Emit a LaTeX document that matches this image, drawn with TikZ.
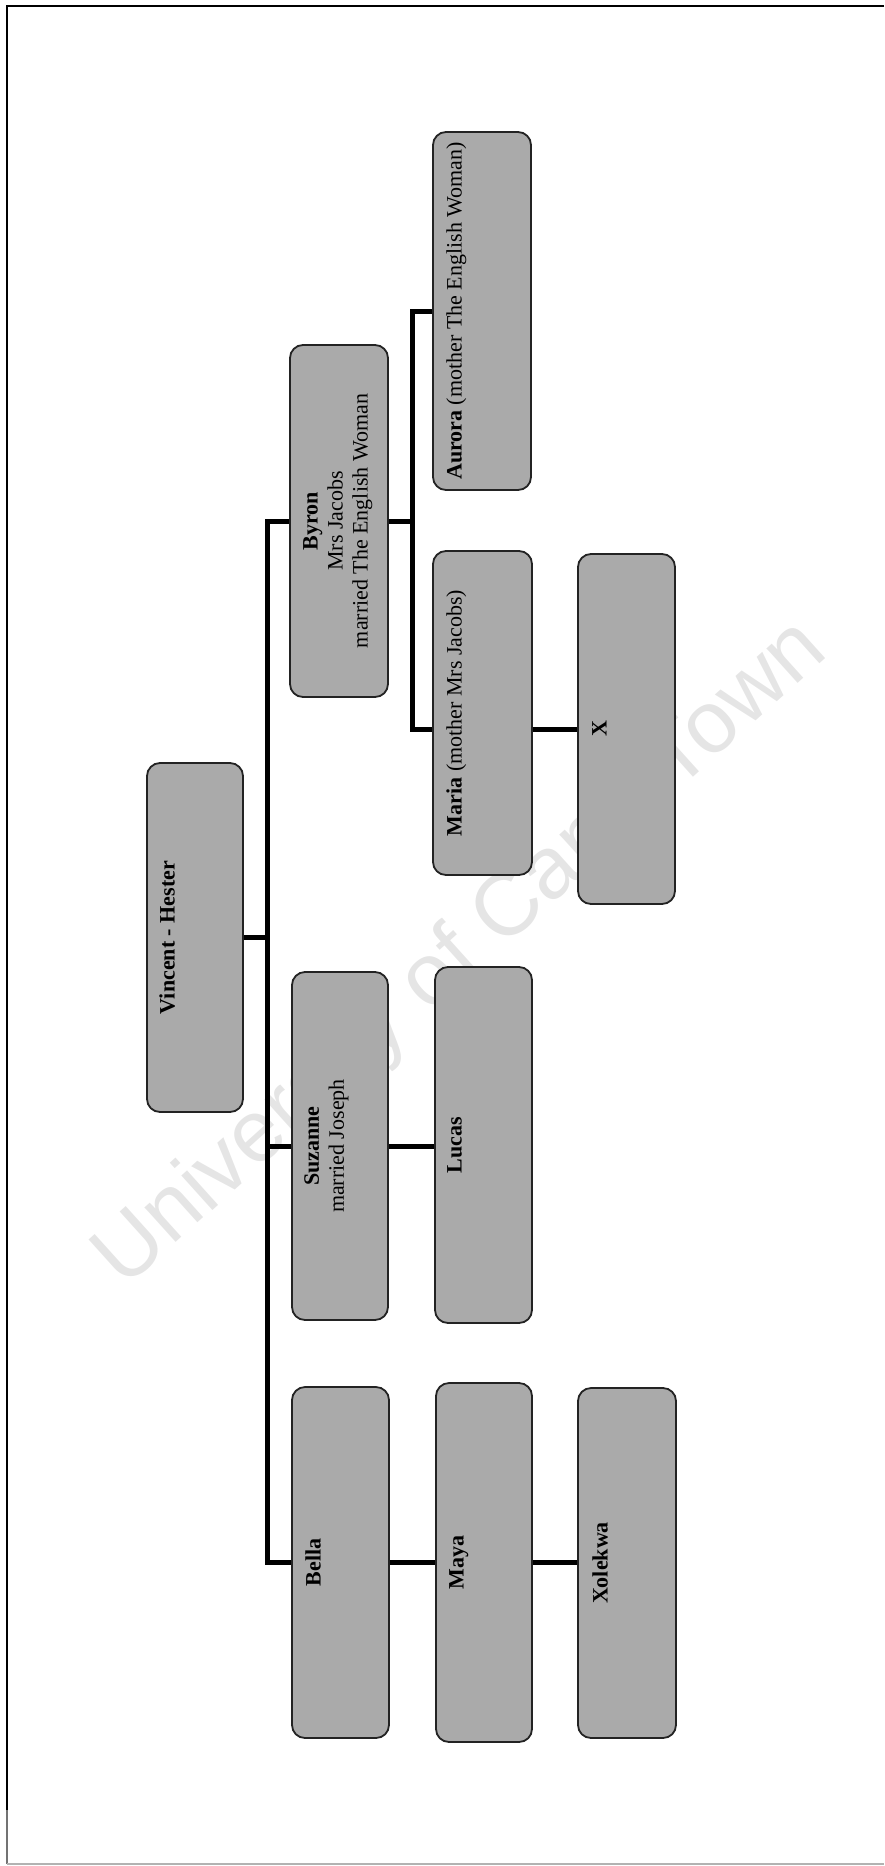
\documentclass[tikz,border=0pt]{standalone}
\usepackage{fontspec}
\setmainfont{Liberation Serif}
\newfontfamily\wmfont{Liberation Sans}
\definecolor{boxgray}{RGB}{170,170,170}
\definecolor{edgegray}{RGB}{35,35,35}
\begin{document}
\begin{tikzpicture}[x=1pt,y=-1pt,
  person/.style={draw=edgegray, line width=1.8pt, fill=boxgray, rounded corners=13pt, inner sep=0pt},
  boxtext/.style={rotate=90, anchor=north, inner sep=0pt, align=center, font=\fontsize{22}{25}\selectfont},
  conn/.style={draw=black, line width=5pt, line join=miter},
  frameline/.style={draw=black, line width=1.6pt},
  wmark/.style={rotate=42, text=black, text opacity=0.10, inner sep=0pt, font=\wmfont\fontsize{88}{88}\selectfont}
]
\useasboundingbox (0,0) rectangle (884,1866);
\fill[white] (0,0) rectangle (884,1866);

% page frame
\draw[frameline] (884,6) -- (7,6) -- (7,1810);
\draw[draw=black!55, line width=1.4pt] (7,1810) -- (7,1864);
\draw[draw=black!30, line width=1.4pt] (7,1864) -- (884,1864);

% watermark
\node[wmark] (wm) at (462,955) {University of Cape Town};

% coordinates for the vertical connector lines
\coordinate (trunk) at (267,0);
\coordinate (bk) at (412,0);

% boxes
\node[person, minimum width=96pt, minimum height=349pt] (vh) at (195,937.5) {};
\node[person, minimum width=98pt, minimum height=352pt] (byron) at (339,521) {};
\node[person, minimum width=96pt, minimum height=348pt] (suz) at (340,1146) {};
\node[person, minimum width=97pt, minimum height=351pt] (bella) at (340.5,1562.5) {};
\node[person, minimum width=98pt, minimum height=358pt] (aurora) at (482,311) {};
\node[person, minimum width=99pt, minimum height=324pt] (maria) at (482.5,713) {};
\node[person, minimum width=97pt, minimum height=356pt] (lucas) at (483.5,1145) {};
\node[person, minimum width=96pt, minimum height=359pt] (maya) at (484,1562.5) {};
\node[person, minimum width=97pt, minimum height=350pt] (xbox) at (626.5,729) {};
\node[person, minimum width=98pt, minimum height=350pt] (xol) at (627,1563) {};

% connectors
\draw[conn] (byron.west) -- (byron.west -| trunk) -- (bella.west -| trunk) -- (bella.west);
\draw[conn] (vh.east) -- (vh.east -| trunk);
\draw[conn] (suz.west) -- (suz.west -| trunk);
\draw[conn] (suz.east) -- (suz.east -| lucas.west);
\draw[conn] (bella.east) -- (bella.east -| maya.west);
\draw[conn] (maya.east) -- (maya.east -| xol.west);
\draw[conn] (byron.east) -- (byron.east -| bk);
\draw[conn] (aurora.west) -- (aurora.west -| bk) -- (bk |- xbox.west) -- (maria.west |- xbox.west);
\draw[conn] (maria.east |- xbox.west) -- (xbox.west);

% texts
\node[boxtext] (vh-t) at ([xshift=13pt]vh.west) {\textbf{Vincent - Hester}};
\node[boxtext] (byron-t) at ([xshift=14pt]byron.west) {\textbf{Byron}\\Mrs Jacobs\\married The English Woman};
\node[boxtext] (suz-t) at ([xshift=13pt]suz.west) {\textbf{Suzanne}\\married Joseph};
\node[boxtext] (bella-t) at ([xshift=14pt]bella.west) {\textbf{Bella}};
\node[boxtext] (aurora-t) at ([xshift=14pt]aurora.west) {\textbf{Aurora} (mother The English Woman)};
\node[boxtext] (maria-t) at ([xshift=14pt]maria.west) {\textbf{Maria} (mother Mrs Jacobs)};
\node[boxtext] (lucas-t) at ([xshift=13pt]lucas.west) {\textbf{Lucas}};
\node[boxtext] (maya-t) at ([xshift=14pt]maya.west) {\textbf{Maya}};
\node[boxtext] (xbox-t) at ([xshift=15pt]xbox.west) {\textbf{X}};
\node[boxtext] (xol-t) at ([xshift=15pt]xol.west) {\textbf{Xolekwa}};
\end{tikzpicture}
\end{document}
